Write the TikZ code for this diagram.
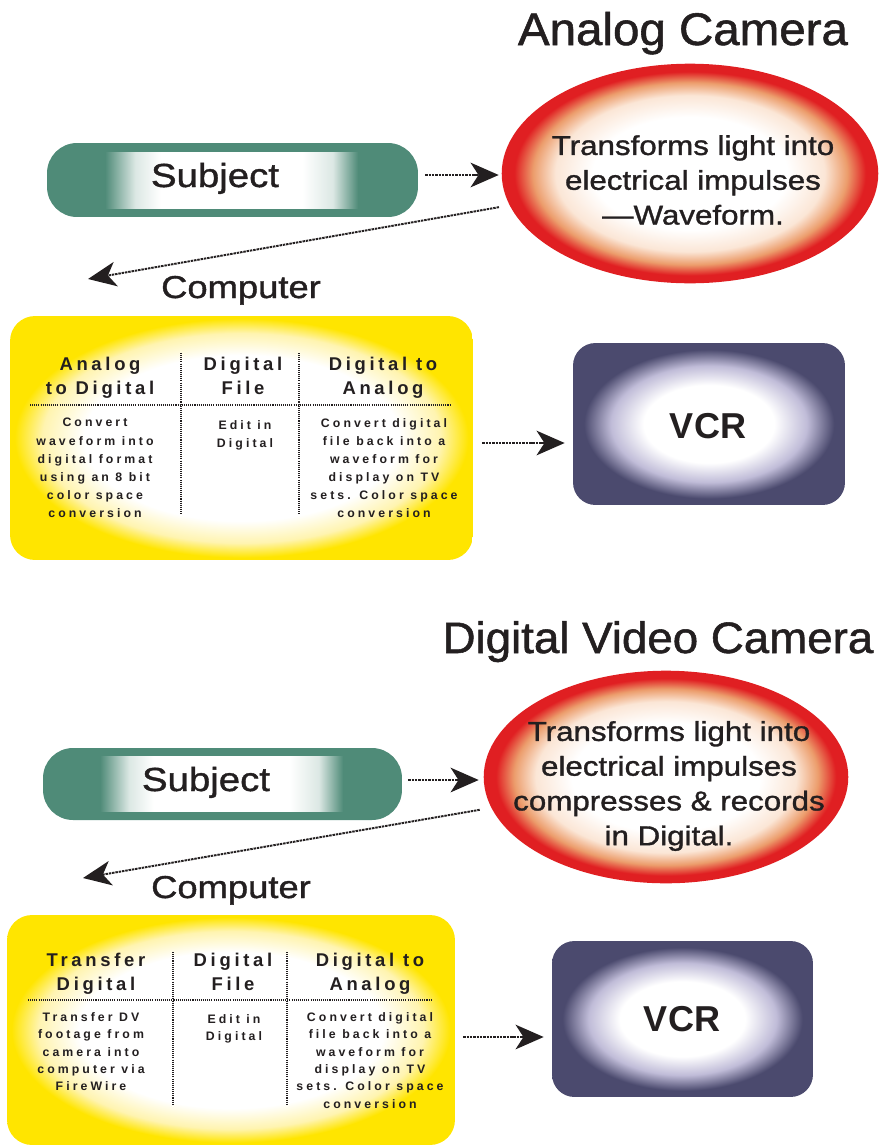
\documentclass[tikz,border=0pt]{standalone}
\usepackage{fontspec}
\setmainfont{Liberation Sans}
\newfontfamily\wsans[FakeStretch=1.15, FakeBold=1.2]{Liberation Sans}
\newfontfamily\tsans[FakeStretch=1.04, FakeBold=1.2]{Liberation Sans}
\newfontfamily\tblhead[LetterSpace=20]{Liberation Sans}
\newfontfamily\tblbody[LetterSpace=25]{Liberation Sans}
\usetikzlibrary{shapes.geometric,arrows.meta}
\definecolor{subjteal}{HTML}{4F8B78}
\definecolor{camred}{HTML}{E01F22}
\definecolor{camorange}{HTML}{EC9D6C}
\definecolor{campeach}{HTML}{FBE6D6}
\definecolor{compyellow}{HTML}{FFE500}
\definecolor{compcream}{HTML}{FFF4B0}
\definecolor{vcrslate}{HTML}{4B4A6E}
\definecolor{vcrlav}{HTML}{C0BCD8}
\definecolor{inkblack}{HTML}{231F20}
\pgfdeclareradialshading{camshade}{\pgfpoint{0bp}{0bp}}{color(0bp)=(white); color(13bp)=(white); color(18bp)=(campeach); color(21bp)=(camorange); color(23.5bp)=(camred); color(50bp)=(camred)}
\pgfdeclareradialshading{compshade}{\pgfpoint{0bp}{0bp}}{color(0bp)=(white); color(17bp)=(white); color(21.5bp)=(compcream); color(24.5bp)=(compyellow); color(50bp)=(compyellow)}
\pgfdeclareradialshading{vcrshade}{\pgfpoint{0bp}{0bp}}{color(0bp)=(white); color(12bp)=(white); color(18bp)=(vcrlav); color(23bp)=(vcrslate); color(50bp)=(vcrslate)}
\pgfdeclarehorizontalshading{subjshade}{100bp}{color(0bp)=(subjteal); color(25bp)=(subjteal); color(31bp)=(white!80!subjteal); color(36bp)=(white); color(64bp)=(white); color(70bp)=(white!80!subjteal); color(75bp)=(subjteal); color(100bp)=(subjteal)}
\tikzset{
  subjbox/.style={rectangle, rounded corners=0.6cm, fill=subjteal, inner sep=0},
  cambox/.style={ellipse, shade, shading=camshade, draw=camred, line width=1.5pt, inner sep=0},
  compbox/.style={rectangle, rounded corners=0.5cm, shade, shading=compshade, inner sep=0},
  vcrbox/.style={rectangle, rounded corners=0.45cm, shade, shading=vcrshade, inner sep=0},
  arr/.style={draw=inkblack, line width=1.1pt, dash pattern=on 1.4pt off 0.5pt,
    -{Stealth[length=16pt, width=14pt, inset=4.5pt]}},
  divline/.style={draw=inkblack, line width=0.7pt, dash pattern=on 0.6pt off 0.6pt},
  titletext/.style={font=\tsans\fontsize{26}{30}\selectfont, text=inkblack, inner sep=0, anchor=base},
  labeltext/.style={font=\wsans\fontsize{19}{22}\selectfont, text=inkblack, inner sep=0, anchor=base},
  comptext/.style={font=\wsans\fontsize{18}{22}\selectfont, text=inkblack, inner sep=0, anchor=base},
  camtext/.style={font=\wsans\fontsize{15.5}{19.8}\selectfont, text=inkblack, inner sep=0, align=center},
  vcrtext/.style={font=\bfseries\fontsize{20.5}{24}\selectfont, text=inkblack, inner sep=0, anchor=base},
  headtext/.style={font=\tblhead\bfseries\fontsize{10.5}{13.6}\selectfont, text=inkblack, inner sep=0, align=center, anchor=north},
  bodytext/.style={font=\tblbody\bfseries\fontsize{7}{10.3}\selectfont, text=inkblack, inner sep=0, align=center, anchor=north},
  bodytextb/.style={bodytext, font=\tblbody\bfseries\fontsize{7}{9.9}\selectfont},
}
\begin{document}
\begin{tikzpicture}[x=0.02cm, y=-0.02cm]
\useasboundingbox[fill=white] (0,0) rectangle (887,1147);

% ---------------- Analog camera ----------------
\node[titletext] (t1) at (683,45) {Analog Camera};

\node[subjbox, minimum width=7.42cm, minimum height=1.48cm] (subj1) at (232.5,180) {};
\shade[shading=subjshade] (105,152) rectangle (358,208);
\node[labeltext] (subj1txt) at (215,187) {Subject};

\node[cambox, minimum width=7.48cm, minimum height=4.34cm] (cam1) at (690,173.5) {};
\node[camtext] (cam1txt) at (693,180) {Transforms light into\\electrical impulses\\—Waveform.};

\coordinate (r1) at (0,175);
\draw[arr, shorten <=0.14cm, shorten >=0.06cm] (subj1.east |- r1) -- (cam1.west |- r1);

\coordinate (c1e) at (88,279);
\draw[arr, shorten <=0.22cm] (cam1.190) -- (c1e);
\node[comptext] (comp1lbl) at (241,298) {Computer};

\node[compbox, minimum width=9.26cm, minimum height=4.88cm] (comp1) at (241.5,438) {};
\draw[divline] (181,353) -- (181,514);
\draw[divline] (299,353) -- (299,514);
\draw[divline] (30,405) -- (450,405);
\node[headtext] (h11) at (100,357) {Analog\\to Digital};
\node[headtext] (h12) at (243,357) {Digital\\File};
\node[headtext] (h13) at (383,357) {Digital to\\Analog};
\node[bodytext] (b11) at (95,418) {Convert\\waveform into\\digital format\\using an 8 bit\\color space\\conversion};
\node[bodytext] (b12) at (245,420) {Edit in\\Digital};
\node[bodytext] (b13) at (384,418) {Convert digital\\file back into a\\waveform for\\display on TV\\sets. Color space\\conversion};

\node[vcrbox, minimum width=5.44cm, minimum height=3.24cm] (vcr1) at (709,424) {};
\node[vcrtext] (vcr1txt) at (708,438) {VCR};
\coordinate (r3) at (0,443);
\draw[arr, shorten <=0.18cm, shorten >=0.16cm] (comp1.east |- r3) -- (vcr1.west |- r3);

% ---------------- Digital video camera ----------------
\node[titletext, font=\tsans\fontsize{25}{30}\selectfont] (t2) at (658,653) {Digital Video Camera};

\node[subjbox, minimum width=7.18cm, minimum height=1.44cm] (subj2) at (222.5,784) {};
\shade[shading=subjshade] (100,756) rectangle (343,811);
\node[labeltext] (subj2txt) at (206,791) {Subject};

\node[cambox, minimum width=7.24cm, minimum height=4.2cm] (cam2) at (666,777) {};
\node[camtext] (cam2txt) at (669,786) {Transforms light into\\electrical impulses\\compresses \& records\\in Digital.};

\coordinate (r4) at (0,780);
\draw[arr, shorten <=0.12cm, shorten >=0.1cm] (subj2.east |- r4) -- (cam2.west |- r4);

\coordinate (c2e) at (83,878);
\draw[arr, shorten <=0.24cm] (cam2.190) -- (c2e);
\node[comptext] (comp2lbl) at (231,898) {Computer};

\node[compbox, minimum width=8.96cm, minimum height=4.6cm] (comp2) at (231,1030) {};
\draw[divline] (173,952) -- (173,1105);
\draw[divline] (287,952) -- (287,1105);
\draw[divline] (28,1000) -- (432,1000);
\node[headtext] (h21) at (96,953) {Transfer\\Digital};
\node[headtext] (h22) at (233,953) {Digital\\File};
\node[headtext] (h23) at (370,953) {Digital to\\Analog};
\node[bodytextb] (b21) at (91,1012) {Transfer DV\\footage from\\camera into\\computer via\\FireWire};
\node[bodytextb] (b22) at (234,1014) {Edit in\\Digital};
\node[bodytextb] (b23) at (370,1012) {Convert digital\\file back into a\\waveform for\\display on TV\\sets. Color space\\conversion};

\node[vcrbox, minimum width=5.22cm, minimum height=3.12cm] (vcr2) at (682.5,1019) {};
\node[vcrtext] (vcr2txt) at (682,1031) {VCR};
\coordinate (r6) at (0,1037);
\draw[arr, shorten <=0.16cm, shorten >=0.16cm] (comp2.east |- r6) -- (vcr2.west |- r6);
\end{tikzpicture}
\end{document}
